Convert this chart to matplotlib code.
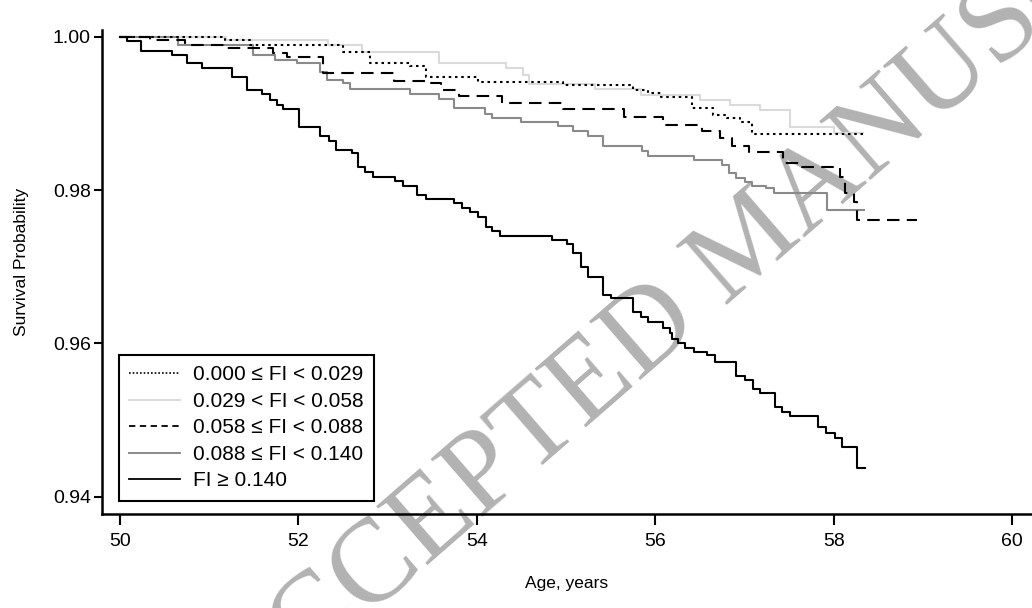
import matplotlib
matplotlib.use('Agg')
import matplotlib.pyplot as plt
from matplotlib.lines import Line2D

plt.rcParams['font.family'] = ['Liberation Sans', 'DejaVu Sans']

# Kaplan-Meier curves by frailty index group (age at event, survival after event)
age_q1 = [50.0, 51.18, 51.46, 52.50, 52.80, 53.25, 53.43, 54.01, 54.97, 55.75, 55.92,
          56.07, 56.41, 56.65, 56.80, 56.95, 57.09, 58.33]
surv_q1 = [1.0, 0.99957, 0.99892, 0.99804, 0.99657, 0.99618, 0.99478, 0.99413, 0.99370,
           0.99311, 0.99266, 0.99217, 0.99066, 0.98979, 0.98936, 0.98891, 0.98731, 0.98731]

age_q2 = [50.0, 51.19, 52.33, 52.71, 53.58, 54.33, 54.52, 54.58, 55.33, 55.84, 56.50,
          56.84, 57.17, 57.51, 58.00, 58.33]
surv_q2 = [1.0, 0.99963, 0.99892, 0.99804, 0.99653, 0.99588, 0.99500, 0.99383, 0.99314,
           0.99246, 0.99177, 0.99109, 0.99044, 0.98826, 0.98744, 0.98744]

age_q3 = [50.0, 50.34, 50.73, 51.18, 51.72, 51.87, 52.28, 53.07, 53.46, 53.60, 53.80,
          54.28, 54.97, 55.65, 56.09, 56.52, 56.73, 56.86, 57.05, 57.43, 57.65, 58.07,
          58.13, 58.23, 58.26, 58.94]
surv_q3 = [1.0, 0.99953, 0.99892, 0.99849, 0.99783, 0.99735, 0.99523, 0.99422, 0.99392,
           0.99311, 0.99223, 0.99135, 0.99053, 0.98957, 0.98848, 0.98770, 0.98679, 0.98574,
           0.98496, 0.98353, 0.98304, 0.98174, 0.97957, 0.97844, 0.97609, 0.97609]

age_q4 = [50.0, 50.65, 51.49, 51.74, 51.98, 52.24, 52.32, 52.50, 52.58, 53.25, 53.58,
          53.74, 54.09, 54.17, 54.50, 54.91, 55.08, 55.25, 55.42, 55.85, 55.92, 56.43,
          56.75, 56.83, 56.91, 57.01, 57.08, 57.24, 57.33, 57.93, 58.34]
surv_q4 = [1.0, 0.99892, 0.99761, 0.99696, 0.99653, 0.99543, 0.99435, 0.99392, 0.99318,
           0.99253, 0.99184, 0.99070, 0.98992, 0.98940, 0.98887, 0.98829, 0.98764, 0.98701,
           0.98574, 0.98513, 0.98450, 0.98392, 0.98327, 0.98218, 0.98153, 0.98109, 0.98053,
           0.98023, 0.97957, 0.97733, 0.97733]

age_q5 = [50.0, 50.075, 50.24, 50.58, 50.75, 50.92, 51.25, 51.42, 51.59, 51.68, 51.76,
          51.83, 52.01, 52.24, 52.34, 52.42, 52.60, 52.67, 52.75, 52.84, 53.08, 53.17,
          53.33, 53.43, 53.74, 53.83, 53.92, 54.01, 54.10, 54.17, 54.26, 54.84, 55.01,
          55.08, 55.17, 55.25, 55.42, 55.50, 55.75, 55.84, 55.92, 56.09, 56.17, 56.19,
          56.26, 56.33, 56.43, 56.58, 56.67, 56.91, 57.01, 57.10, 57.17, 57.34, 57.42,
          57.51, 57.83, 57.92, 58.02, 58.09, 58.26, 58.35]
surv_q5 = [1.0, 0.99944, 0.99817, 0.99761, 0.99653, 0.99588, 0.99478, 0.99305, 0.99253,
           0.99174, 0.99109, 0.99057, 0.98818, 0.98705, 0.98644, 0.98522, 0.98479, 0.98304,
           0.98239, 0.98174, 0.98118, 0.98053, 0.97935, 0.97879, 0.97827, 0.97766, 0.97714,
           0.97652, 0.97518, 0.97459, 0.97401, 0.97348, 0.97296, 0.97175, 0.97000, 0.96872,
           0.96631, 0.96588, 0.96409, 0.96348, 0.96285, 0.96201, 0.96131, 0.96057, 0.96001,
           0.95936, 0.95891, 0.95848, 0.95761, 0.95574, 0.95522, 0.95401, 0.95349, 0.95166,
           0.95109, 0.95053, 0.94913, 0.94835, 0.94762, 0.94652, 0.94371, 0.94371]

labels = ['0.000 \u2264 FI < 0.029', '0.029 < FI < 0.058', '0.058 \u2264 FI < 0.088',
          '0.088 \u2264 FI < 0.140', 'FI \u2265 0.140']
xticks = [50, 52, 54, 56, 58, 60]
yticks = [0.94, 0.96, 0.98, 1.00]

fig = plt.figure(figsize=(10.32, 6.08), dpi=100)
ax = fig.add_axes([102/1032, 94/608, 930/1032, 484/608])

lw = 1.5
ax.step(age_q2, surv_q2, where='post', color='#dadada', lw=lw, zorder=2)
ax.step(age_q4, surv_q4, where='post', color='#8a8a8a', lw=lw, zorder=3)
ax.step(age_q1, surv_q1, where='post', color='black', lw=lw, ls=(0, (1.2, 1.8)), zorder=4)
ax.step(age_q3, surv_q3, where='post', color='black', lw=lw, ls=(0, (6, 3.5)), zorder=4)
ax.step(age_q5, surv_q5, where='post', color='black', lw=lw, zorder=5)

ax.set_xlim(49.798, 60.224)
ax.set_ylim(0.93774, 1.000874)
ax.set_xticks(xticks)
ax.set_xticklabels([str(t) for t in xticks])
ax.set_yticks(yticks)
ax.set_yticklabels(['%.2f' % t for t in yticks])

for s in ['top', 'right']:
    ax.spines[s].set_visible(False)
for s in ['left', 'bottom']:
    ax.spines[s].set_linewidth(1.8)
ax.tick_params(axis='x', direction='out', length=8, width=1.5, pad=6, labelsize=14)
ax.tick_params(axis='y', direction='out', length=6, width=1.5, pad=2, labelsize=14)

ax.set_xlabel('Age, years', fontsize=12.5)
ax.xaxis.set_label_coords(0.5, -0.128)
ax.set_ylabel('Survival Probability', fontsize=12.5)
ax.yaxis.set_label_coords(-0.078, 0.52)

handles = [
    Line2D([], [], color='black', lw=1.2, ls=(0, (1, 1.2))),
    Line2D([], [], color='#dadada', lw=1.4),
    Line2D([], [], color='black', lw=1.3, ls=(0, (3.5, 2.5))),
    Line2D([], [], color='#8a8a8a', lw=1.4),
    Line2D([], [], color='black', lw=1.3),
]
leg = ax.legend(handles, labels, loc='upper left',
                bbox_to_anchor=(119/1032, 1 - 355/608), bbox_transform=fig.transFigure,
                borderaxespad=0, fontsize=15, handlelength=2.45, handletextpad=0.6,
                labelspacing=0.36, borderpad=0.5, fancybox=False, framealpha=1)
leg.get_frame().set_edgecolor('black')
leg.get_frame().set_linewidth(1.5)

# watermark
ax.text(752/1032, 1 - 245/608, 'ACCEPTED MANUSCRIPT', transform=fig.transFigure,
        family='Liberation Serif', fontsize=85, color='#b2b2b2', rotation=41,
        ha='center', va='center', rotation_mode='anchor', clip_on=False, zorder=1)

fig.savefig('out.png', dpi=100)
